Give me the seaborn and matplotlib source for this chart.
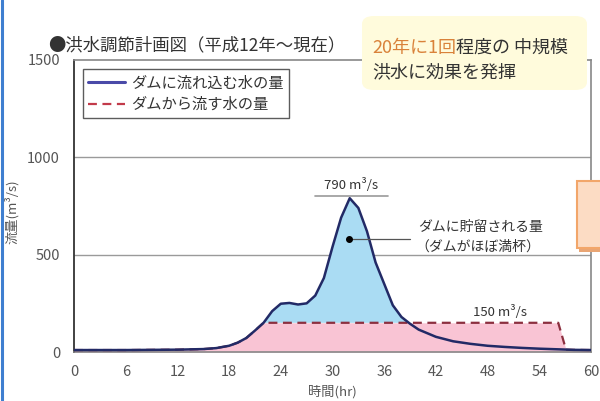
import numpy as np
import pandas as pd
import matplotlib
matplotlib.use("Agg")
import matplotlib.pyplot as plt
from matplotlib.patches import Rectangle, FancyBboxPatch
from matplotlib.ticker import MultipleLocator
import seaborn as sns

# Inflow hydrograph (m³/s) against elapsed time (hr)
hours = [0, 6, 12, 15, 16.5, 18, 19, 20, 21, 22, 23, 24, 25, 26, 27, 28, 29, 30,
         31, 32, 33, 34, 35, 36, 37, 38, 39, 40, 42, 44, 46, 48, 50, 52, 54, 56, 58, 60]
inflow = [10, 10, 12, 15, 20, 32, 48, 72, 110, 150, 210, 248, 252, 244, 250, 290, 380, 540,
          690, 790, 740, 620, 460, 350, 240, 180, 145, 115, 78, 55, 42, 32, 26, 21, 17, 14, 11, 10]

# Released discharge: follows inflow, then held at 150 m³/s until the reservoir empties
out_hours = [0, 6, 12, 15, 16.5, 18, 19, 20, 21, 22, 56.2, 57.1, 58, 60]
outflow = [10, 10, 12, 15, 20, 32, 48, 72, 110, 150, 150, 12, 11, 10]

x_ticks = [0, 6, 12, 18, 24, 30, 36, 42, 48, 54, 60]
y_ticks = [0, 500, 1000, 1500]
peak_label = "790 m³/s"
release_label = "150 m³/s"

sns.set_style("white")
plt.rcParams["font.family"] = ["Noto Sans CJK JP", "DejaVu Sans"]

fig = plt.figure(figsize=(6.0, 4.01), dpi=100)
ax = fig.add_axes([74 / 600, 1 - 352 / 401, 517 / 600, 292 / 401])

df_in = pd.DataFrame({"hr": hours, "q": inflow})
df_out = pd.DataFrame({"hr": out_hours, "q": outflow})

# Common grid for the shaded volumes
grid = np.union1d(hours, out_hours)
q_in = np.interp(grid, hours, inflow)
q_out = np.interp(grid, out_hours, outflow)

ax.fill_between(grid, 0, q_out, color="#f9c4d4", lw=0, zorder=1)
ax.fill_between(grid, q_out, q_in, where=q_in >= q_out, interpolate=True,
                color="#aadcf3", lw=0, zorder=1)

for yv in [500, 1000]:
    ax.axhline(yv, color="#9a9a9a", lw=1.0, zorder=0.5)

sns.lineplot(data=df_out, x="hr", y="q", ax=ax, color="#8c2f3f", lw=1.6,
             linestyle=(0, (4, 2.5)), zorder=3, label="ダムから流す水の量")
sns.lineplot(data=df_in, x="hr", y="q", ax=ax, color="#222a66", lw=1.8,
             zorder=4, label="ダムに流れ込む水の量")

ax.set_xlim(0, 60)
ax.set_ylim(0, 1500)
ax.set_xticks(x_ticks)
ax.set_yticks(y_ticks)
ax.yaxis.set_minor_locator(MultipleLocator(100))
ax.tick_params(axis="both", which="both", direction="in", colors="#555555",
               labelsize=10.5, length=4, width=1)
ax.tick_params(axis="y", which="minor", length=3)
ax.tick_params(axis="x", pad=9)
ax.tick_params(axis="y", pad=10)
for lab in ax.get_xticklabels() + ax.get_yticklabels():
    lab.set_color("#555555")

ax.spines["left"].set_color("#333333")
ax.spines["left"].set_linewidth(1.3)
for s in ["top", "right", "bottom"]:
    ax.spines[s].set_color("#888888")
    ax.spines[s].set_linewidth(1.2)

ax.set_xlabel("時間(hr)", fontsize=9.5, color="#555555")
ax.set_ylabel("流量(m³/s)", fontsize=9.5, color="#555555")
ax.xaxis.set_label_coords(0.5, -33 / 292)
ax.yaxis.set_label_coords(-55 / 517, (352 - 212) / 292)

# Legend, inflow first
handles, labels = ax.get_legend_handles_labels()
leg = ax.legend(handles[::-1], labels[::-1], loc="upper left",
                bbox_to_anchor=(0.002, 0.995), fontsize=11, frameon=True,
                fancybox=False, edgecolor="#333333", handlelength=2.4,
                borderpad=0.35, labelspacing=0.3, handletextpad=0.4)
leg.get_frame().set_linewidth(1.0)
leg.get_lines()[0].set_color("#4a4aa8")
leg.get_lines()[0].set_linewidth(2.2)
leg.get_lines()[1].set_color("#c23a4a")
for t in leg.get_texts():
    t.set_color("#333333")

# Peak annotation
ax.plot([28, 36.4], [800, 800], color="#999999", lw=1.2, zorder=5)
ax.text(32.1, 860, peak_label, ha="center", va="center", fontsize=9.5, color="#333333")

# Stored volume annotation
ax.plot([31.9, 39.0], [580, 580], color="#555555", lw=0.9, zorder=5)
ax.plot([31.9], [580], "o", color="black", ms=4, zorder=6)
ax.text(40.0, 643, "ダムに貯留される量", ha="left", va="center", fontsize=10, color="#333333")
ax.text(39.6, 543, "（ダムがほぼ満杯）", ha="left", va="center", fontsize=10, color="#333333")

# Release rate annotation
ax.text(49.4, 203, release_label, ha="center", va="center", fontsize=9.5, color="#333333")

# Title
fig.text(48 / 600, 1 - 45 / 401, "●洪水調節計画図（平成12年～現在）", fontsize=12.5,
         color="#333333", ha="left", va="center")

# Callout over the top frame
box = FancyBboxPatch((362 / 600, 1 - 90 / 401), 225 / 600, 74 / 401,
                     boxstyle="round,pad=0.0,rounding_size=0.02",
                     transform=fig.transFigure, facecolor="#fffbdc",
                     edgecolor="none", zorder=10)
fig.patches.append(box)
t1 = fig.text(372 / 600, 1 - 48 / 401, "20年に1回", fontsize=13, color="#d9823a",
              ha="left", va="center", zorder=11)
fig.canvas.draw()
bb = t1.get_window_extent()
fig.text(bb.x1 / 600, 1 - 48 / 401, "程度の 中規模", fontsize=13, color="#333333",
         ha="left", va="center", zorder=11)
fig.text(372 / 600, 1 - 72 / 401, "洪水に効果を発揮", fontsize=13, color="#333333",
         ha="left", va="center", zorder=11)

# Box at the right edge
fig.patches.append(Rectangle((579 / 600, 1 - 252 / 401), 25 / 600, 70 / 401,
                             transform=fig.transFigure, facecolor="#e9a574",
                             edgecolor="none", zorder=10))
fig.patches.append(Rectangle((577 / 600, 1 - 248 / 401), 25 / 600, 67 / 401,
                             transform=fig.transFigure, facecolor="#fcdcc4",
                             edgecolor="#f2a66a", lw=1.5, zorder=11))

# Left border line of the panel
fig.add_artist(plt.Line2D([1.5 / 600, 1.5 / 600], [0, 1], transform=fig.transFigure,
                          color="#3f7fd0", lw=2.2))

fig.savefig("out.png", dpi=100)
